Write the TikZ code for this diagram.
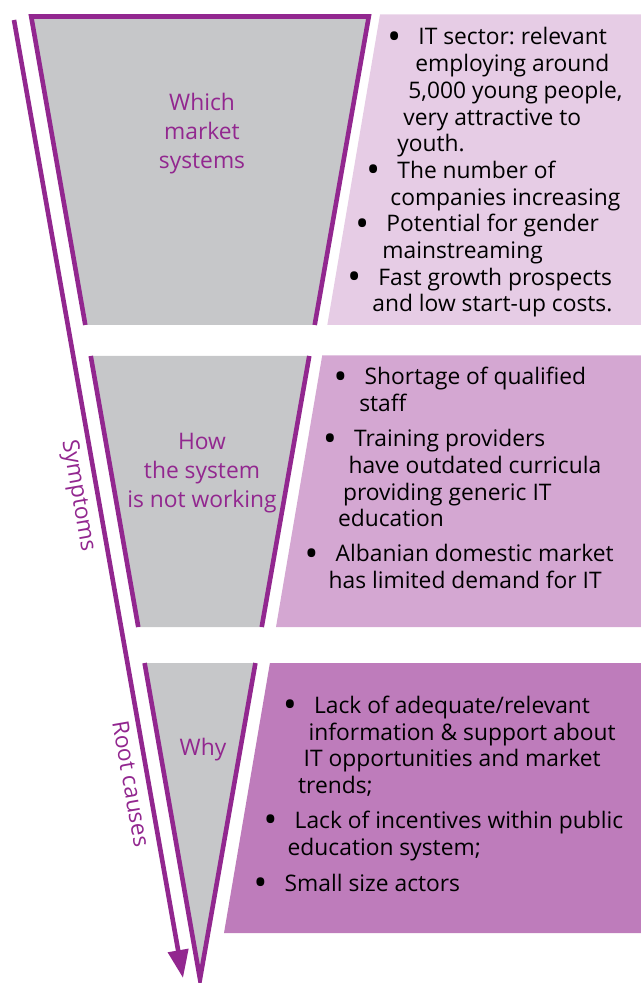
\documentclass[tikz,border=0pt]{standalone}
\usepackage{fontspec}
\setmainfont{Open Sans}
\usepackage{tikz}
\usetikzlibrary{calc,arrows.meta}
\frenchspacing
\definecolor{funnelpurple}{HTML}{92278F}
\definecolor{funnelgrey}{HTML}{C6C7C9}
\definecolor{panellight}{HTML}{E6CCE5}
\definecolor{panelmid}{HTML}{D4A7D2}
\definecolor{paneldark}{HTML}{BE7CBB}
\newcommand{\bpoint}{\makebox[15.5pt][l]{\raisebox{-2.2pt}{\scalebox{1.6}{\textbullet}}}}
\tikzset{
    funnel-line/.style = {draw=funnelpurple, line width=2.3pt, line join=miter},
    stage-fill/.style = {fill=funnelgrey},
    stage-label/.style = {text=funnelpurple, align=center, font=\fontsize{11.4}{14.5}\selectfont},
    side-arrow/.style = {draw=funnelpurple, line width=2.3pt, -{Triangle[length=14pt, width=10pt]}},
    side-label/.style = {sloped, below, text=funnelpurple, font=\fontsize{11.4}{13.35}\selectfont},
    panel-text/.style = {anchor=base west, inner sep=0pt, font=\fontsize{11.4}{13.35}\selectfont},
}

\begin{document}
\begin{tikzpicture}[x=0.5pt, y=-0.5pt]
\useasboundingbox (0,0) rectangle (641,983);

% funnel corners and the cuts between the three stages
\coordinate (tl) at (31.2,16.5);
\coordinate (tr) at (368.8,16.5);
\coordinate (tip) at (200,979);
\coordinate (l1) at ($(tl)!0.3205!(tip)$);
\coordinate (r1) at ($(tr)!0.3205!(tip)$);
\coordinate (l2) at ($(tl)!0.3527!(tip)$);
\coordinate (r2) at ($(tr)!0.3527!(tip)$);
\coordinate (l3) at ($(tl)!0.6343!(tip)$);
\coordinate (r3) at ($(tr)!0.6343!(tip)$);
\coordinate (l4) at ($(tl)!0.6717!(tip)$);
\coordinate (r4) at ($(tr)!0.6717!(tip)$);

\fill[stage-fill] (tl) -- (tr) -- (r1) -- (l1) -- cycle;
\draw[funnel-line] (l1) -- (tl) -- (tr) -- (r1);
\fill[stage-fill] (l2) -- (r2) -- (r3) -- (l3) -- cycle;
\draw[funnel-line] (l2) -- (l3) (r2) -- (r3);
\fill[stage-fill] (l4) -- (r4) -- (tip) -- cycle;
\draw[funnel-line] (l4) -- (tip) -- (r4);

% coloured panels on the right
\fill[panellight] (380,14.5) -- (641,14.5) -- (641,325) -- (327.3,325) -- cycle;
\fill[panelmid] (322.2,355.5) -- (641,355.5) -- (641,627) -- (276,627) -- cycle;
\fill[paneldark] (269.9,663) -- (641,663) -- (641,933) -- (224,933) -- cycle;

\node[stage-label] (which) at (202,134) {Which\\market\\systems};
\node[stage-label] (how) at (202,473) {How\\the system\\is not working};
\node[stage-label, anchor=base] (why) at (203,755) {Why};

% arrow down the left side
\coordinate (arrow-top) at (14,20);
\coordinate (arrow-end) at (183,978);
\draw[side-arrow] (arrow-top) -- node[side-label, pos=0.493] (symptoms) {Symptoms}
    node[side-label, pos=0.794] (root-causes) {Root causes} (arrow-end);

\node[panel-text] (market-facts) at (347,45) {\begin{minipage}[t]{240pt}
\hspace*{20pt}\bpoint IT sector: relevant\\
\hspace*{34pt}employing around\\
\hspace*{30.5pt}5,000 young people,\\
\hspace*{28pt}very attractive to\\
\hspace*{25pt}youth.\\
\hspace*{9.5pt}\bpoint The number of\\
\hspace*{21.5pt}companies increasing\\
\hspace*{4pt}\bpoint Potential for gender\\
\hspace*{17.5pt}mainstreaming\\
\bpoint Fast growth prospects\\
\hspace*{12.5pt}and low start-up costs.
\end{minipage}};

\node[panel-text] (symptom-list) at (304.3,385) {\begin{minipage}[t]{240pt}
\hspace*{14.5pt}\bpoint Shortage of qualified\\
\hspace*{27.3pt}staff\\[4.2pt]
\hspace*{9.2pt}\bpoint Training providers\\
\hspace*{22pt}have outdated curricula\\
\hspace*{19.2pt}providing generic IT\\
\hspace*{16.7pt}education\\[4.2pt]
\bpoint Albanian domestic market\\
\hspace*{12pt}has limited demand for IT
\end{minipage}};

\node[panel-text] (cause-list) at (253.3,713.3) {\begin{minipage}[t]{240pt}
\hspace*{14.7pt}\bpoint Lack of adequate/relevant\\
\hspace*{27.5pt}information \& support about\\
\hspace*{25pt}IT opportunities and market\\
\hspace*{22.2pt}trends;\\[4.2pt]
\hspace*{5pt}\bpoint Lack of incentives within public\\
\hspace*{17pt}education system;\\[4.8pt]
\bpoint Small size actors
\end{minipage}};
\end{tikzpicture}
\end{document}
